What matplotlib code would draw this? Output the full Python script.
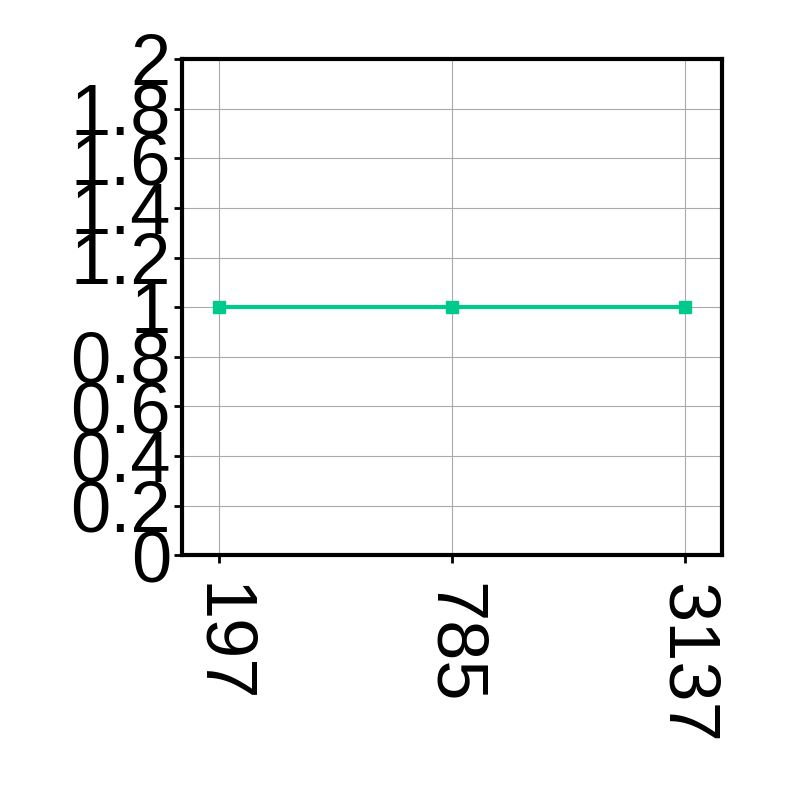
import matplotlib
matplotlib.use("Agg")
import matplotlib.pyplot as plt

categories = ["197", "785", "3137"]
values = [1, 1, 1]
yticks = [0, 0.2, 0.4, 0.6, 0.8, 1, 1.2, 1.4, 1.6, 1.8, 2]
ytick_labels = ["0", "0.2", "0.4", "0.6", "0.8", "1", "1.2", "1.4", "1.6", "1.8", "2"]

plt.rcParams['font.family'] = ['Liberation Sans', 'DejaVu Sans']
fig = plt.figure(figsize=(8, 8), dpi=100)
ax = fig.add_axes([0.2275, 0.306, 0.675, 0.62])
x = list(range(len(categories)))
ax.plot(x, values, color="#00c98d", lw=3, marker="s", markersize=8, zorder=3)
ax.set_xlim(-0.16, 2.16)
ax.set_ylim(0, 2)
ax.set_xticks(x)
ax.set_xticklabels(categories, rotation=270, fontsize=52)
ax.set_yticks(yticks)
ax.set_yticklabels(ytick_labels, fontsize=52)
ax.grid(True, color="#aaaaaa", lw=0.8)
ax.set_axisbelow(True)
for s in ax.spines.values():
    s.set_linewidth(3)
ax.tick_params(width=2, length=6)
ax.tick_params(axis='x', pad=14)
ax.tick_params(axis='y', pad=2)
fig.savefig("out.png", dpi=100)
